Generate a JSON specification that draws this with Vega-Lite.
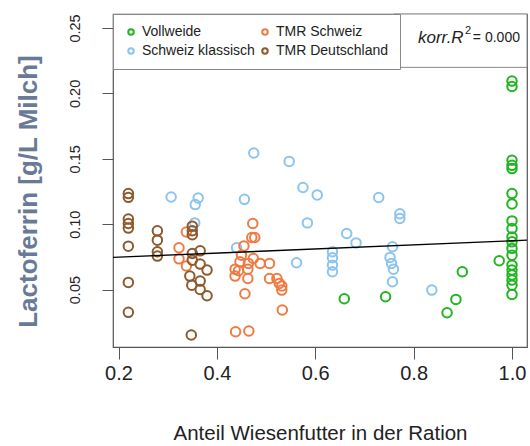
{
  "$schema": "https://vega.github.io/schema/vega-lite/v6.json",
  "autosize": {"type": "none"},
  "width": 414,
  "height": 333,
  "padding": {"left": 113, "top": 14, "right": 3, "bottom": 99},
  "background": "white",
  "config": {
    "font": "Liberation Sans",
    "view": {"stroke": "#555555", "strokeWidth": 1.2},
    "axis": {"domain": false, "grid": false, "tickColor": "#555555", "tickWidth": 1, "labelColor": "#222222", "labelFont": "Liberation Sans"}
  },
  "data": {
    "values": [
      {"g": "Vollweide", "x": 1.0, "y": 0.2094},
      {"g": "Vollweide", "x": 1.0, "y": 0.2053},
      {"g": "Vollweide", "x": 1.0, "y": 0.1489},
      {"g": "Vollweide", "x": 1.0, "y": 0.1450},
      {"g": "Vollweide", "x": 1.0, "y": 0.1425},
      {"g": "Vollweide", "x": 1.0, "y": 0.1234},
      {"g": "Vollweide", "x": 1.0, "y": 0.1155},
      {"g": "Vollweide", "x": 1.0, "y": 0.1025},
      {"g": "Vollweide", "x": 1.0, "y": 0.0967},
      {"g": "Vollweide", "x": 1.0, "y": 0.0903},
      {"g": "Vollweide", "x": 1.0, "y": 0.0865},
      {"g": "Vollweide", "x": 1.0, "y": 0.0815},
      {"g": "Vollweide", "x": 1.0, "y": 0.0763},
      {"g": "Vollweide", "x": 1.0, "y": 0.0687},
      {"g": "Vollweide", "x": 1.0, "y": 0.0649},
      {"g": "Vollweide", "x": 1.0, "y": 0.0611},
      {"g": "Vollweide", "x": 1.0, "y": 0.0573},
      {"g": "Vollweide", "x": 1.0, "y": 0.0534},
      {"g": "Vollweide", "x": 1.0, "y": 0.0463},
      {"g": "Vollweide", "x": 0.659, "y": 0.0430},
      {"g": "Vollweide", "x": 0.743, "y": 0.0445},
      {"g": "Vollweide", "x": 0.899, "y": 0.0636},
      {"g": "Vollweide", "x": 0.886, "y": 0.0425},
      {"g": "Vollweide", "x": 0.868, "y": 0.0323},
      {"g": "Vollweide", "x": 0.974, "y": 0.0720},
      {"g": "Schweiz klassisch", "x": 0.307, "y": 0.1208},
      {"g": "Schweiz klassisch", "x": 0.362, "y": 0.1200},
      {"g": "Schweiz klassisch", "x": 0.356, "y": 0.1150},
      {"g": "Schweiz klassisch", "x": 0.355, "y": 0.1010},
      {"g": "Schweiz klassisch", "x": 0.475, "y": 0.1544},
      {"g": "Schweiz klassisch", "x": 0.547, "y": 0.1480},
      {"g": "Schweiz klassisch", "x": 0.575, "y": 0.1280},
      {"g": "Schweiz klassisch", "x": 0.604, "y": 0.1224},
      {"g": "Schweiz klassisch", "x": 0.456, "y": 0.1190},
      {"g": "Schweiz klassisch", "x": 0.584, "y": 0.1010},
      {"g": "Schweiz klassisch", "x": 0.440, "y": 0.0820},
      {"g": "Schweiz klassisch", "x": 0.562, "y": 0.0705},
      {"g": "Schweiz klassisch", "x": 0.664, "y": 0.0929},
      {"g": "Schweiz klassisch", "x": 0.683, "y": 0.0857},
      {"g": "Schweiz klassisch", "x": 0.635, "y": 0.0789},
      {"g": "Schweiz klassisch", "x": 0.635, "y": 0.0743},
      {"g": "Schweiz klassisch", "x": 0.635, "y": 0.0687},
      {"g": "Schweiz klassisch", "x": 0.635, "y": 0.0636},
      {"g": "Schweiz klassisch", "x": 0.729, "y": 0.1204},
      {"g": "Schweiz klassisch", "x": 0.772, "y": 0.1080},
      {"g": "Schweiz klassisch", "x": 0.772, "y": 0.1043},
      {"g": "Schweiz klassisch", "x": 0.757, "y": 0.0827},
      {"g": "Schweiz klassisch", "x": 0.752, "y": 0.0746},
      {"g": "Schweiz klassisch", "x": 0.755, "y": 0.0700},
      {"g": "Schweiz klassisch", "x": 0.759, "y": 0.0656},
      {"g": "Schweiz klassisch", "x": 0.757, "y": 0.0560},
      {"g": "Schweiz klassisch", "x": 0.837, "y": 0.0496},
      {"g": "TMR Schweiz", "x": 0.473, "y": 0.1005},
      {"g": "TMR Schweiz", "x": 0.471, "y": 0.0898},
      {"g": "TMR Schweiz", "x": 0.477, "y": 0.0898},
      {"g": "TMR Schweiz", "x": 0.455, "y": 0.0834},
      {"g": "TMR Schweiz", "x": 0.450, "y": 0.0763},
      {"g": "TMR Schweiz", "x": 0.474, "y": 0.0738},
      {"g": "TMR Schweiz", "x": 0.447, "y": 0.0712},
      {"g": "TMR Schweiz", "x": 0.464, "y": 0.0700},
      {"g": "TMR Schweiz", "x": 0.488, "y": 0.0700},
      {"g": "TMR Schweiz", "x": 0.507, "y": 0.0700},
      {"g": "TMR Schweiz", "x": 0.437, "y": 0.0656},
      {"g": "TMR Schweiz", "x": 0.444, "y": 0.0644},
      {"g": "TMR Schweiz", "x": 0.463, "y": 0.0656},
      {"g": "TMR Schweiz", "x": 0.437, "y": 0.0603},
      {"g": "TMR Schweiz", "x": 0.463, "y": 0.0585},
      {"g": "TMR Schweiz", "x": 0.507, "y": 0.0585},
      {"g": "TMR Schweiz", "x": 0.522, "y": 0.0585},
      {"g": "TMR Schweiz", "x": 0.527, "y": 0.0547},
      {"g": "TMR Schweiz", "x": 0.532, "y": 0.0527},
      {"g": "TMR Schweiz", "x": 0.532, "y": 0.0496},
      {"g": "TMR Schweiz", "x": 0.457, "y": 0.0468},
      {"g": "TMR Schweiz", "x": 0.533, "y": 0.0344},
      {"g": "TMR Schweiz", "x": 0.438, "y": 0.0178},
      {"g": "TMR Schweiz", "x": 0.465, "y": 0.0183},
      {"g": "TMR Schweiz", "x": 0.338, "y": 0.0940},
      {"g": "TMR Schweiz", "x": 0.323, "y": 0.0820},
      {"g": "TMR Schweiz", "x": 0.323, "y": 0.0735},
      {"g": "TMR Schweiz", "x": 0.338, "y": 0.0680},
      {"g": "TMR Deutschland", "x": 0.22, "y": 0.1234},
      {"g": "TMR Deutschland", "x": 0.22, "y": 0.1205},
      {"g": "TMR Deutschland", "x": 0.22, "y": 0.1040},
      {"g": "TMR Deutschland", "x": 0.22, "y": 0.1005},
      {"g": "TMR Deutschland", "x": 0.22, "y": 0.0970},
      {"g": "TMR Deutschland", "x": 0.22, "y": 0.0832},
      {"g": "TMR Deutschland", "x": 0.22, "y": 0.0555},
      {"g": "TMR Deutschland", "x": 0.22, "y": 0.0326},
      {"g": "TMR Deutschland", "x": 0.279, "y": 0.0949},
      {"g": "TMR Deutschland", "x": 0.279, "y": 0.0878},
      {"g": "TMR Deutschland", "x": 0.279, "y": 0.0789},
      {"g": "TMR Deutschland", "x": 0.279, "y": 0.0756},
      {"g": "TMR Deutschland", "x": 0.350, "y": 0.0985},
      {"g": "TMR Deutschland", "x": 0.350, "y": 0.0950},
      {"g": "TMR Deutschland", "x": 0.350, "y": 0.0920},
      {"g": "TMR Deutschland", "x": 0.350, "y": 0.0776},
      {"g": "TMR Deutschland", "x": 0.366, "y": 0.0796},
      {"g": "TMR Deutschland", "x": 0.350, "y": 0.0725},
      {"g": "TMR Deutschland", "x": 0.366, "y": 0.0695},
      {"g": "TMR Deutschland", "x": 0.380, "y": 0.0649},
      {"g": "TMR Deutschland", "x": 0.345, "y": 0.0603},
      {"g": "TMR Deutschland", "x": 0.366, "y": 0.0565},
      {"g": "TMR Deutschland", "x": 0.349, "y": 0.0534},
      {"g": "TMR Deutschland", "x": 0.366, "y": 0.0501},
      {"g": "TMR Deutschland", "x": 0.380, "y": 0.0453},
      {"g": "TMR Deutschland", "x": 0.348, "y": 0.0153}
    ]
  },
  "layer": [
    {
      "mark": {"type": "point", "shape": "circle", "filled": false, "size": 90, "strokeWidth": 2, "opacity": 1},
      "encoding": {
        "x": {
          "field": "x", "type": "quantitative",
          "scale": {"domain": [0.1888, 1.0305], "zero": false, "nice": false},
          "axis": {"values": [0.2, 0.4, 0.6, 0.8, 1.0], "format": ".1f", "tickSize": 12, "labelFontSize": 20, "labelPadding": 4,
                   "title": "Anteil Wiesenfutter in der Ration", "titleFontSize": 20.5, "titleFontWeight": "normal", "titleColor": "#222222",
                   "titleX": 207, "titleY": 92, "titleBaseline": "alphabetic", "titleAlign": "center"}
        },
        "y": {
          "field": "y", "type": "quantitative",
          "scale": {"domain": [0.0061, 0.2607], "zero": false, "nice": false},
          "axis": {"values": [0.05, 0.1, 0.15, 0.2, 0.25], "format": ".2f", "tickSize": 11, "labelFontSize": 14.5, "labelAngle": -90, "labelPadding": 20,
                   "labelAlign": "center", "labelBaseline": "bottom",
                   "title": "Lactoferrin [g/L Milch]", "titleFontSize": 26, "titleFontWeight": "bold", "titleColor": "#687a96",
                   "titleX": -77, "titleY": 177, "titleAngle": -90, "titleBaseline": "alphabetic", "titleAlign": "center"}
        },
        "color": {
          "field": "g", "type": "nominal",
          "scale": {"domain": ["Vollweide", "Schweiz klassisch", "TMR Schweiz", "TMR Deutschland"],
                    "range": ["#22b422", "#8cc4ee", "#ef7b44", "#8c5a2e"]},
          "legend": {
            "orient": "none", "legendX": 0, "legendY": 0, "columns": 2, "title": null,
            "strokeColor": "#888888", "fillColor": "white", "padding": 11,
            "labelFontSize": 14, "labelColor": "#222222", "labelFont": "Liberation Sans", "labelOffset": 4,
            "symbolSize": 30, "symbolStrokeWidth": 2, "symbolType": "circle",
            "columnPadding": 3, "rowPadding": 5
          }
        }
      }
    },
    {
      "data": {"values": [{}]},
      "mark": {"type": "rule", "color": "black", "strokeWidth": 1.4},
      "encoding": {
        "x": {"datum": 0.1888, "type": "quantitative"},
        "x2": {"datum": 1.0305},
        "y": {"datum": 0.0746, "type": "quantitative"},
        "y2": {"datum": 0.0878}
      }
    },
    {
      "data": {"values": [{}]},
      "mark": {"type": "rect", "fill": "white", "stroke": "#888888", "strokeWidth": 1},
      "encoding": {
        "x": {"datum": 0.7597, "type": "quantitative"},
        "x2": {"datum": 1.0305},
        "y": {"datum": 0.2199, "type": "quantitative"},
        "y2": {"datum": 0.2607}
      }
    },
    {
      "data": {"values": [{}]},
      "mark": {"type": "text", "text": "korr.R", "fontStyle": "italic", "fontSize": 17, "align": "left", "baseline": "middle", "color": "#222222"},
      "encoding": {
        "x": {"datum": 0.8089, "type": "quantitative"},
        "y": {"datum": 0.2427, "type": "quantitative"}
      }
    },
    {
      "data": {"values": [{}]},
      "mark": {"type": "text", "text": "2", "fontSize": 11, "align": "left", "baseline": "middle", "color": "#222222", "dy": -7},
      "encoding": {
        "x": {"datum": 0.9044, "type": "quantitative"},
        "y": {"datum": 0.2427, "type": "quantitative"}
      }
    },
    {
      "data": {"values": [{}]},
      "mark": {"type": "text", "text": "= 0.000", "fontSize": 14, "align": "right", "baseline": "middle", "color": "#222222"},
      "encoding": {
        "x": {"datum": 1.0162, "type": "quantitative"},
        "y": {"datum": 0.2427, "type": "quantitative"}
      }
    }
  ]
}
